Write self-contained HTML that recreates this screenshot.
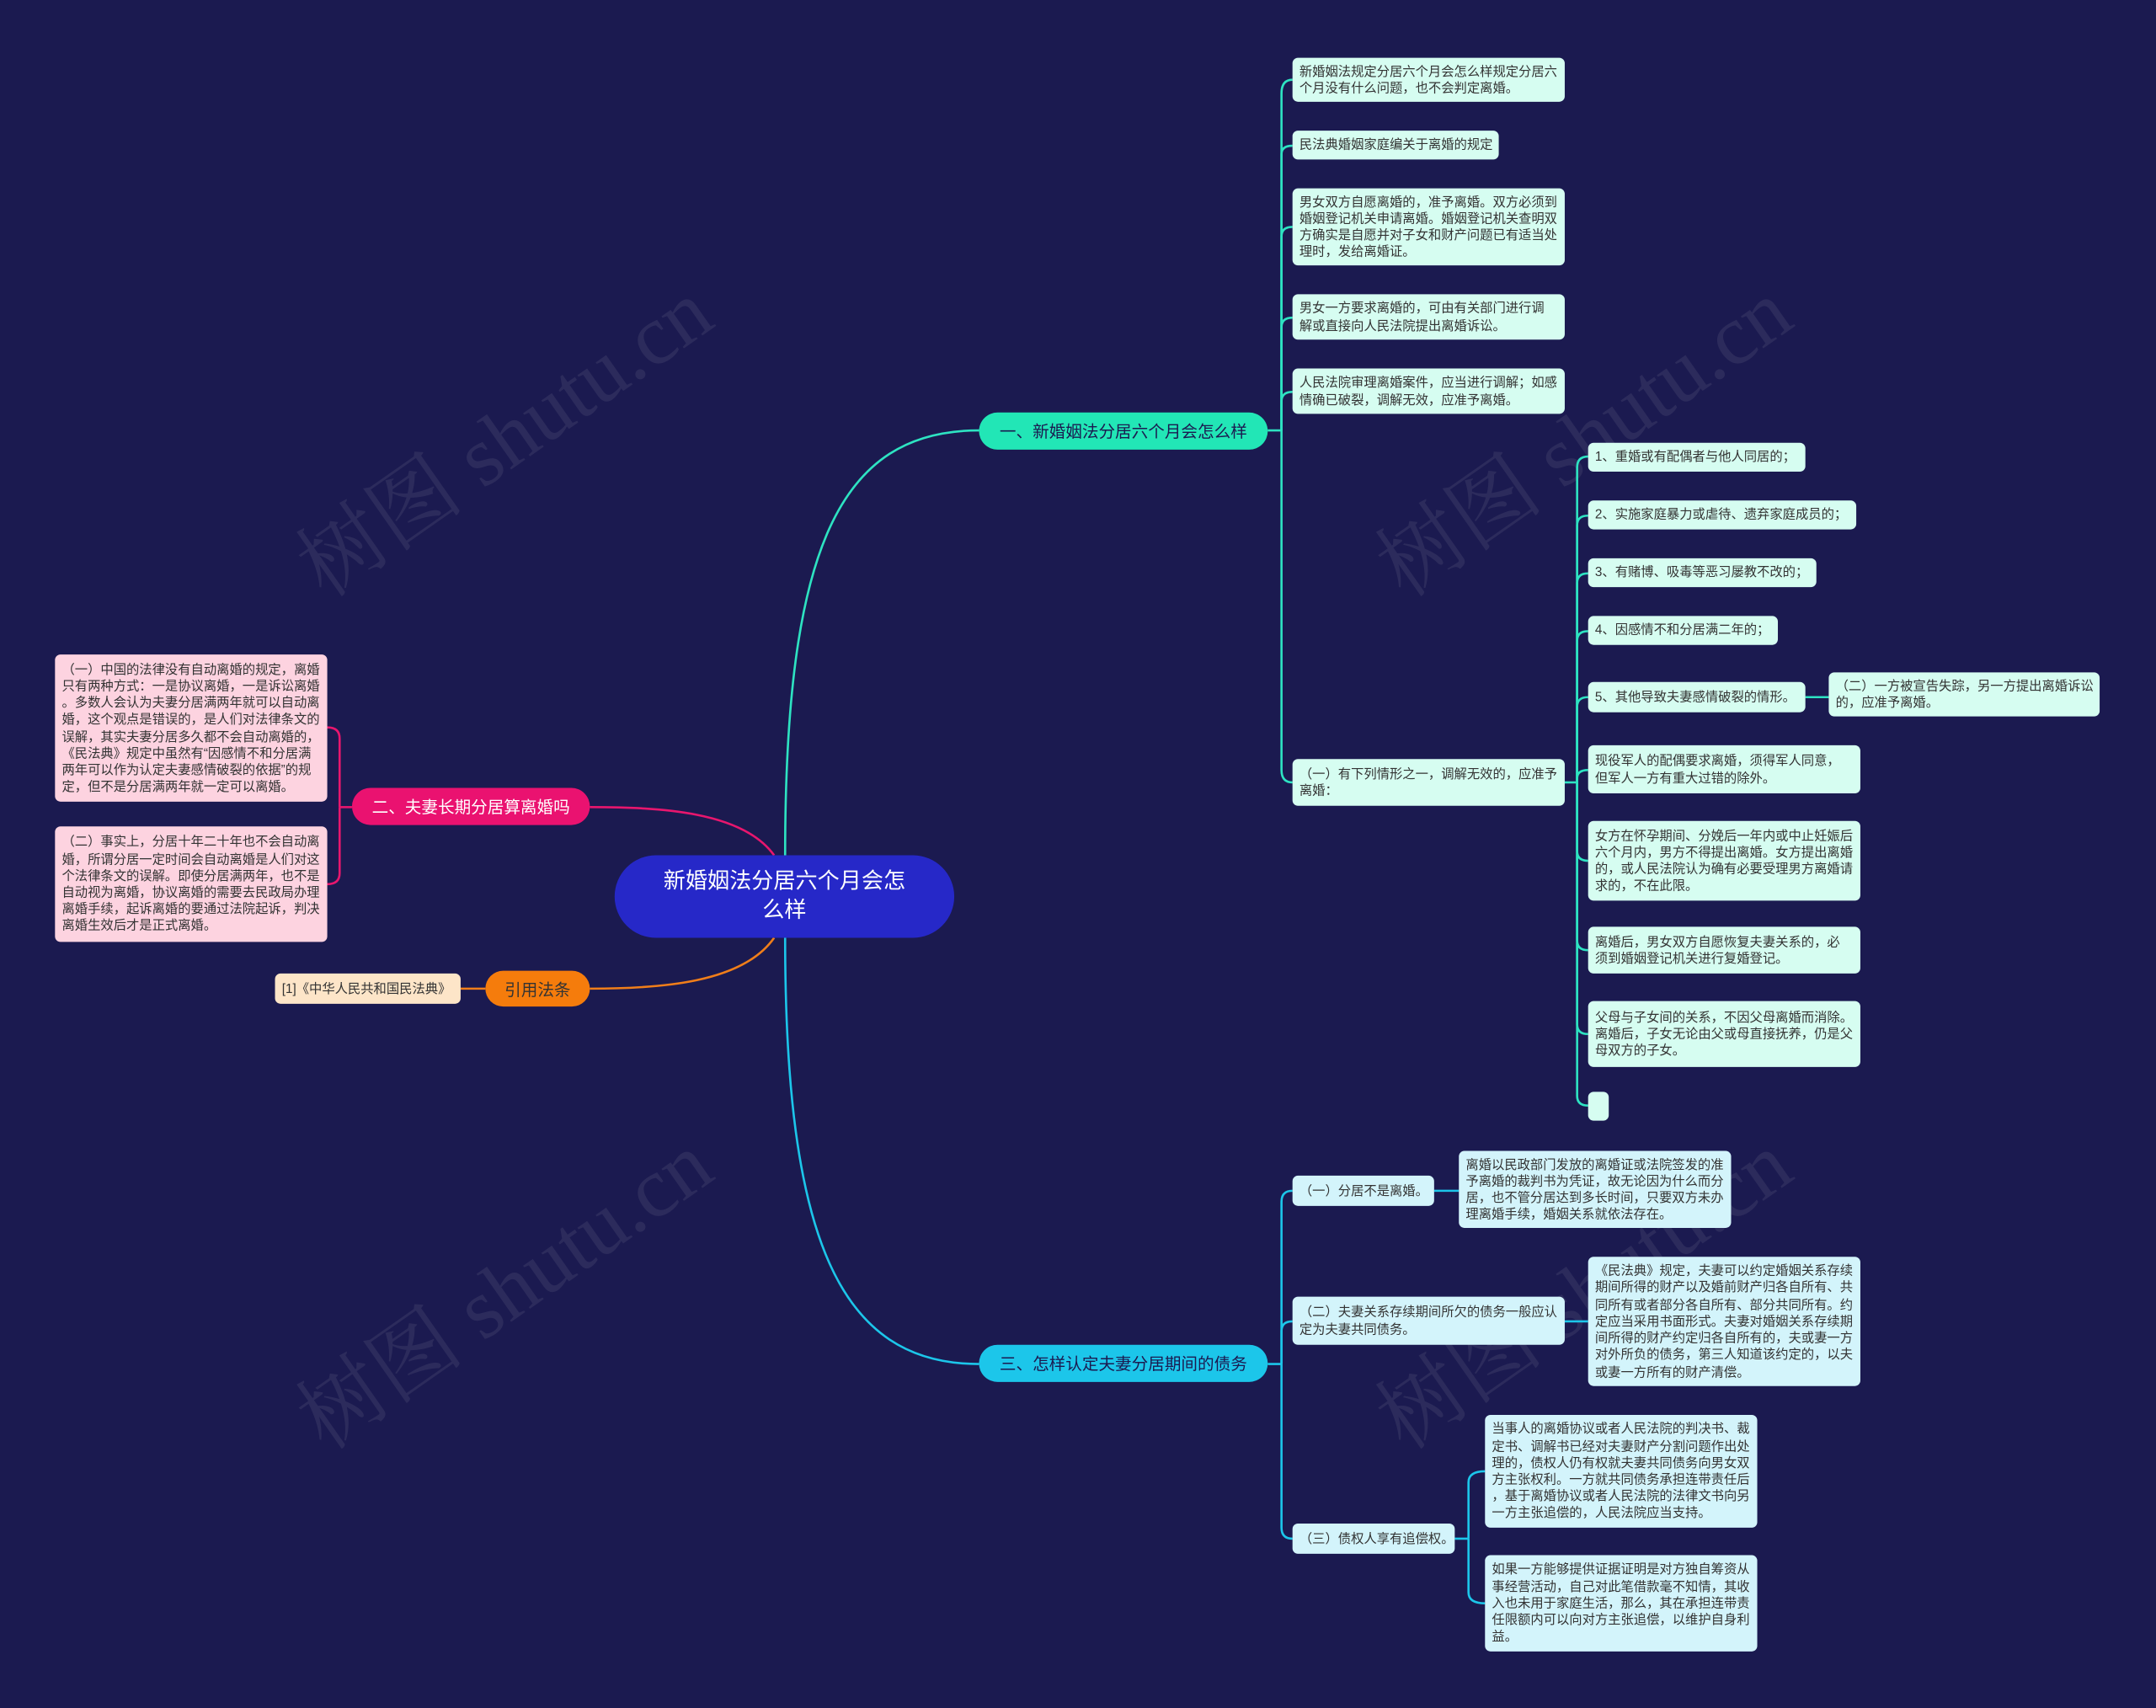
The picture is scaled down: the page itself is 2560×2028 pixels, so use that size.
<!DOCTYPE html>
<html><head><meta charset="utf-8"><style>
html,body{margin:0;padding:0;background:#1b1a50;width:2560px;height:2027px;overflow:hidden}
#c{position:absolute;left:0;top:0;width:1568px;height:1242px;transform:scale(1.63265);transform-origin:0 0;font-family:"Liberation Sans","Noto Sans CJK SC",sans-serif}
.n{position:absolute;box-sizing:border-box;display:flex;align-items:center;border-radius:4px;font-size:9.4px;line-height:12.2px;color:#333;padding:0 5px;white-space:nowrap;overflow:hidden}
.g{background:#d6fdf1}
.b{background:#d3f4fb}
.p{background:#fdd3e0}
.pill{position:absolute;box-sizing:border-box;display:flex;align-items:center;justify-content:center;border-radius:14px;font-size:12px;white-space:nowrap}
svg{position:absolute;left:0;top:0}
.wm{position:absolute;font-family:"Liberation Serif","Noto Serif CJK SC",serif;font-size:62px;color:rgba(200,200,210,0.10);white-space:nowrap;transform:rotate(-35deg);transform-origin:center}
</style></head><body><div id="c">
<div class="wm" style="left:190px;top:270px">树图 shutu.cn</div>
<div class="wm" style="left:975px;top:270px">树图 shutu.cn</div>
<div class="wm" style="left:190px;top:890px">树图 shutu.cn</div>
<div class="wm" style="left:975px;top:890px">树图 shutu.cn</div>
<svg width="1568" height="1242" fill="none" stroke-width="1.6">
<g stroke="#2ee3c2">
<path d="M571,622 C571,400 610,313 712,313"/>
<path d="M922,313 H932"/>
<path d="M932,313 V68 Q932,58 940,58"/>
<path d="M932,313 V112 Q932,106 940,106"/>
<path d="M932,313 V172 Q932,165 940,165"/>
<path d="M932,313 V238 Q932,231 940,231"/>
<path d="M932,313 V292 Q932,285 940,285"/>
<path d="M932,313 V560 Q932,569 940,569"/>
<path d="M1138,569 H1147"/>
<path d="M1147,569 V340 Q1147,332 1155,332"/>
<path d="M1147,569 V382 Q1147,375 1155,375"/>
<path d="M1147,569 V424 Q1147,417 1155,417"/>
<path d="M1147,569 V466 Q1147,459 1155,459"/>
<path d="M1147,569 V514 Q1147,507 1155,507"/>
<path d="M1147,569 V566 Q1147,560 1155,560"/>
<path d="M1147,569 V619 Q1147,626 1155,626"/>
<path d="M1147,569 V684 Q1147,691 1155,691"/>
<path d="M1147,569 V745 Q1147,752 1155,752"/>
<path d="M1147,569 V797 Q1147,804 1155,804"/>
<path d="M1313,507 H1330"/>
</g>
<g stroke="#1cc6ea">
<path d="M571,682 C571,900 610,992 712,992"/>
<path d="M922,992 H932"/>
<path d="M932,992 V874 Q932,866 940,866"/>
<path d="M932,992 V968 Q932,961 940,961"/>
<path d="M932,992 V1111 Q932,1119 940,1119"/>
<path d="M1043,866 H1061"/>
<path d="M1138,961 H1155"/>
<path d="M1058,1119 H1068"/>
<path d="M1068,1119 V1078 Q1068,1070 1080,1070"/>
<path d="M1068,1119 V1158 Q1068,1166 1080,1166"/>
</g>
<g stroke="#e8166e">
<path d="M563,622 C540,590 480,587 429,587"/>
<path d="M256,587 H247"/>
<path d="M247,587 V537 Q247,529 238,529"/>
<path d="M247,587 V635 Q247,643 238,643"/>
</g>
<g stroke="#f07e1a">
<path d="M563,682 C540,715 480,719 429,719"/>
<path d="M353,719 H335"/>
</g>
</svg>

<div class="pill" style="left:447px;top:622px;width:247px;height:60px;border-radius:30px;background:#2628c8;color:#fff;font-size:16px;line-height:21px;text-align:center;white-space:normal">新婚姻法分居六个月会怎<br>么样</div>
<div class="pill" style="left:712px;top:300px;width:210px;height:27px;background:#22e6b6;color:#1b1a50">一、新婚姻法分居六个月会怎么样</div>
<div class="pill" style="left:256px;top:573px;width:173px;height:27px;background:#ea1270;color:#fff">二、夫妻长期分居算离婚吗</div>
<div class="pill" style="left:353px;top:706px;width:76px;height:26px;background:#f57c0c;color:#333">引用法条</div>
<div class="pill" style="left:712px;top:978px;width:210px;height:27px;background:#1cc6ea;color:#1b1a50">三、怎样认定夫妻分居期间的债务</div>

<div class="n g" style="left:940px;top:42px;width:198px;height:32px">新婚姻法规定分居六个月会怎么样规定分居六<br>个月没有什么问题，也不会判定离婚。</div>
<div class="n g" style="left:940px;top:95px;width:150px;height:21px">民法典婚姻家庭编关于离婚的规定</div>
<div class="n g" style="left:940px;top:137px;width:198px;height:56px">男女双方自愿离婚的，准予离婚。双方必须到<br>婚姻登记机关申请离婚。婚姻登记机关查明双<br>方确实是自愿并对子女和财产问题已有适当处<br>理时，发给离婚证。</div>
<div class="n g" style="left:940px;top:214px;width:198px;height:33px"> 男女一方要求离婚的，可由有关部门进行调<br>解或直接向人民法院提出离婚诉讼。</div>
<div class="n g" style="left:940px;top:268px;width:198px;height:33px">人民法院审理离婚案件，应当进行调解；如感<br>情确已破裂，调解无效，应准予离婚。</div>
<div class="n g" style="left:940px;top:552px;width:198px;height:34px">（一）有下列情形之一，调解无效的，应准予<br>离婚：</div>

<div class="n g" style="left:1155px;top:322px;width:158px;height:21px">1、重婚或有配偶者与他人同居的；</div>
<div class="n g" style="left:1155px;top:364px;width:195px;height:21px">2、实施家庭暴力或虐待、遗弃家庭成员的；</div>
<div class="n g" style="left:1155px;top:406px;width:166px;height:21px">3、有赌博、吸毒等恶习屡教不改的；</div>
<div class="n g" style="left:1155px;top:448px;width:138px;height:21px">4、因感情不和分居满二年的；</div>
<div class="n g" style="left:1155px;top:496px;width:158px;height:22px">5、其他导致夫妻感情破裂的情形。</div>
<div class="n g" style="left:1330px;top:489px;width:197px;height:32px"> （二）一方被宣告失踪，另一方提出离婚诉讼<br>的，应准予离婚。</div>
<div class="n g" style="left:1155px;top:542px;width:198px;height:35px"> 现役军人的配偶要求离婚，须得军人同意，<br>但军人一方有重大过错的除外。</div>
<div class="n g" style="left:1155px;top:597px;width:198px;height:58px">女方在怀孕期间、分娩后一年内或中止妊娠后<br>六个月内，男方不得提出离婚。女方提出离婚<br>的，或人民法院认为确有必要受理男方离婚请<br>求的，不在此限。</div>
<div class="n g" style="left:1155px;top:674px;width:198px;height:34px"> 离婚后，男女双方自愿恢复夫妻关系的，必<br>须到婚姻登记机关进行复婚登记。</div>
<div class="n g" style="left:1155px;top:728px;width:198px;height:48px">父母与子女间的关系，不因父母离婚而消除。<br>离婚后，子女无论由父或母直接抚养，仍是父<br>母双方的子女。</div>
<div class="n g" style="left:1155px;top:794px;width:15px;height:21px"></div>

<div class="n b" style="left:940px;top:855px;width:103px;height:22px">（一）分居不是离婚。</div>
<div class="n b" style="left:1061px;top:837px;width:198px;height:56px">离婚以民政部门发放的离婚证或法院签发的准<br>予离婚的裁判书为凭证，故无论因为什么而分<br>居，也不管分居达到多长时间，只要双方未办<br>理离婚手续，婚姻关系就依法存在。</div>
<div class="n b" style="left:940px;top:943px;width:198px;height:35px">（二）夫妻关系存续期间所欠的债务一般应认<br>定为夫妻共同债务。</div>
<div class="n b" style="left:1155px;top:914px;width:198px;height:94px">《民法典》规定，夫妻可以约定婚姻关系存续<br>期间所得的财产以及婚前财产归各自所有、共<br>同所有或者部分各自所有、部分共同所有。约<br>定应当采用书面形式。夫妻对婚姻关系存续期<br>间所得的财产约定归各自所有的，夫或妻一方<br>对外所负的债务，第三人知道该约定的，以夫<br>或妻一方所有的财产清偿。</div>
<div class="n b" style="left:940px;top:1108px;width:118px;height:22px">（三）债权人享有追偿权。</div>
<div class="n b" style="left:1080px;top:1029px;width:198px;height:82px">当事人的离婚协议或者人民法院的判决书、裁<br>定书、调解书已经对夫妻财产分割问题作出处<br>理的，债权人仍有权就夫妻共同债务向男女双<br>方主张权利。一方就共同债务承担连带责任后<br>，基于离婚协议或者人民法院的法律文书向另<br>一方主张追偿的，人民法院应当支持。</div>
<div class="n b" style="left:1080px;top:1131px;width:198px;height:70px">如果一方能够提供证据证明是对方独自筹资从<br>事经营活动，自己对此笔借款毫不知情，其收<br>入也未用于家庭生活，那么，其在承担连带责<br>任限额内可以向对方主张追偿，以维护自身利<br>益。</div>

<div class="n p" style="left:40px;top:476px;width:198px;height:107px"> （一）中国的法律没有自动离婚的规定，离婚<br>只有两种方式：一是协议离婚，一是诉讼离婚<br>。多数人会认为夫妻分居满两年就可以自动离<br>婚，这个观点是错误的，是人们对法律条文的<br>误解，其实夫妻分居多久都不会自动离婚的，<br>《民法典》规定中虽然有“因感情不和分居满<br>两年可以作为认定夫妻感情破裂的依据”的规<br>定，但不是分居满两年就一定可以离婚。</div>
<div class="n p" style="left:40px;top:601px;width:198px;height:84px"> （二）事实上，分居十年二十年也不会自动离<br>婚，所谓分居一定时间会自动离婚是人们对这<br>个法律条文的误解。即使分居满两年，也不是<br>自动视为离婚，协议离婚的需要去民政局办理<br>离婚手续，起诉离婚的要通过法院起诉，判决<br>离婚生效后才是正式离婚。</div>
<div class="n" style="left:200px;top:708px;width:135px;height:22px;background:#fde5c8">[1]《中华人民共和国民法典》</div>
</div></body></html>
